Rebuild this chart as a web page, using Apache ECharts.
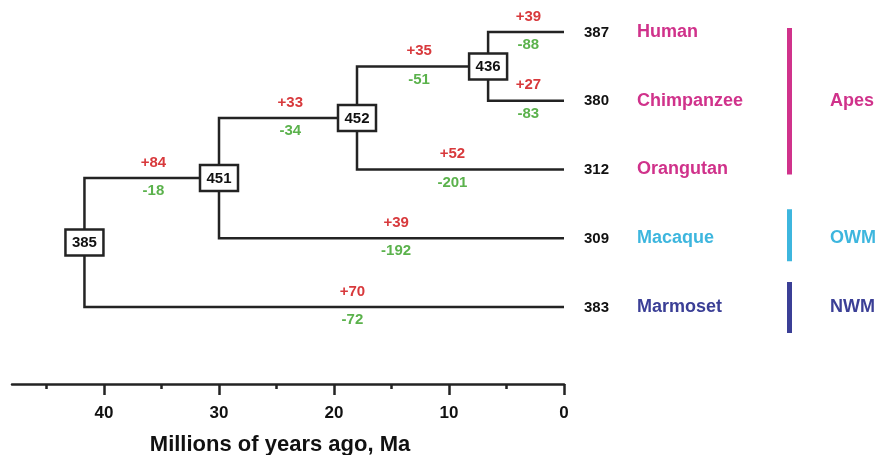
<!DOCTYPE html>
<html><head><meta charset="utf-8">
<script src="https://cdn.jsdelivr.net/npm/echarts@6/dist/echarts.min.js"></script>
<style>html,body{margin:0;padding:0;background:#fff}#c{width:875px;height:455px}</style>
</head><body><div id="c"></div>
<script>
// ---- data ----
const leaves = ['Human', 'Chimpanzee', 'Orangutan', 'Macaque', 'Marmoset'];
const leafCounts = [387, 380, 312, 309, 383];
const leafGroups = ['Apes', 'Apes', 'Apes', 'OWM', 'NWM'];
const nodeIds = ['HC', 'HCO', 'HCOM', 'Root'];
const nodeTimes = [6.6, 18, 30, 41.7];
const nodeCounts = [436, 452, 451, 385];
const branchChild = ['Human', 'Chimpanzee', 'HC', 'Orangutan', 'HCO', 'Macaque', 'HCOM', 'Marmoset'];
const branchParent = ['HC', 'HC', 'HCO', 'HCO', 'HCOM', 'HCOM', 'Root', 'Root'];
const gains = [39, 27, 35, 52, 33, 39, 84, 70];
const losses = [88, 83, 51, 201, 34, 192, 18, 72];
const labelAt = [3.1, 3.1, 12.6, 9.7, 23.8, 14.6, 35.7, 18.4];
const groups = ['Apes', 'OWM', 'NWM'];
const tickLabels = [0, 10, 20, 30, 40];
const minorTicks = [5, 15, 25, 35, 45];

// ---- style ----
const FONT = '"Liberation Sans", Arial, Helvetica, sans-serif';
const LINE = '#232323';
const RED = '#d8393c';
const GREEN = '#5bb24c';
const groupColors = { Apes: '#d0328b', OWM: '#3db6de', NWM: '#3b3f96' };
const groupPad = { Apes: [4, 5], OWM: [29, 23], NWM: [25, 26] };

function posOf(id) {
  const li = leaves.indexOf(id);
  if (li >= 0) return [0, li];
  const k = nodeIds.indexOf(id);
  const kids = branchChild.filter((c, i) => branchParent[i] === id);
  const ys = kids.map(c => posOf(c)[1]);
  return [nodeTimes[k], ys.reduce((a, b) => a + b, 0) / ys.length];
}

const chart = echarts.init(document.getElementById('c'));
const axisCommon = { type: 'value', min: 0, max: 48, inverse: true, position: 'bottom', offset: 77, splitLine: { show: false } };

chart.setOption({
  animation: false,
  grid: { left: 12, right: 311, top: 32, bottom: 148, containLabel: false, outerBoundsMode: 'none' },
  xAxis: [
    Object.assign({}, axisCommon, {
      axisLine: { show: true, onZero: false, lineStyle: { color: LINE, width: 2.5 } },
      axisTick: { show: true, customValues: tickLabels, length: 11, lineStyle: { color: LINE, width: 2.5 } },
      axisLabel: { customValues: tickLabels, margin: 21, color: '#111', fontWeight: 'bold', fontSize: 17, fontFamily: FONT },
      name: 'Millions of years ago, Ma', nameLocation: 'middle', nameGap: 50,
      nameTextStyle: { color: '#111', fontWeight: 'bold', fontSize: 22, fontFamily: FONT, padding: [0, 16, 0, 0] }
    }),
    Object.assign({}, axisCommon, {
      axisLine: { show: false, onZero: false },
      axisTick: { show: true, customValues: minorTicks, length: 5, lineStyle: { color: LINE, width: 2.5 } },
      axisLabel: { show: false }
    })
  ],
  yAxis: { type: 'value', min: 0, max: 4, inverse: true, show: false },
  series: [
    { // branches with gain / loss labels
      type: 'custom', clip: false, z: 2,
      data: branchChild.map((c, i) => [i]),
      renderItem: function (params, api) {
        const i = params.dataIndex;
        const p = posOf(branchParent[i]), c = posOf(branchChild[i]);
        const a = api.coord(p), b = api.coord([p[0], c[1]]), e = api.coord(c);
        const lx = api.coord([labelAt[i], c[1]])[0];
        return { type: 'group', children: [
          { type: 'polyline', shape: { points: [a, b, e] }, style: { stroke: LINE, lineWidth: 2.5, fill: null } },
          { type: 'text', style: { text: '+' + gains[i], x: lx, y: e[1] - 15.5, fill: RED, font: 'bold 15px ' + FONT, textAlign: 'center', textVerticalAlign: 'middle' } },
          { type: 'text', style: { text: '-' + losses[i], x: lx, y: e[1] + 13, fill: GREEN, font: 'bold 15px ' + FONT, textAlign: 'center', textVerticalAlign: 'middle' } }
        ] };
      }
    },
    { // internal node boxes
      type: 'custom', clip: false, z: 5,
      data: nodeIds.map((n, i) => [i]),
      renderItem: function (params, api) {
        const i = params.dataIndex;
        const pt = api.coord(posOf(nodeIds[i]));
        return { type: 'group', children: [
          { type: 'rect', shape: { x: pt[0] - 19, y: pt[1] - 13, width: 38, height: 26 }, style: { fill: '#fff', stroke: LINE, lineWidth: 2.5 } },
          { type: 'text', style: { text: String(nodeCounts[i]), x: pt[0], y: pt[1] + 0.5, fill: '#111', font: 'bold 15px ' + FONT, textAlign: 'center', textVerticalAlign: 'middle' } }
        ] };
      }
    },
    { // leaf counts and species names
      type: 'custom', clip: false, z: 3,
      data: leaves.map((l, i) => [i]),
      renderItem: function (params, api) {
        const i = params.dataIndex;
        const pt = api.coord([0, i]);
        return { type: 'group', children: [
          { type: 'text', style: { text: String(leafCounts[i]), x: pt[0] + 20, y: pt[1] + 0.5, fill: '#111', font: 'bold 15px ' + FONT, textAlign: 'left', textVerticalAlign: 'middle' } },
          { type: 'text', style: { text: leaves[i], x: pt[0] + 73, y: pt[1], fill: groupColors[leafGroups[i]], font: 'bold 18px ' + FONT, textAlign: 'left', textVerticalAlign: 'middle' } }
        ] };
      }
    },
    { // group bars and labels
      type: 'custom', clip: false, z: 3,
      data: groups.map((g, i) => [i]),
      renderItem: function (params, api) {
        const g = groups[params.dataIndex];
        const idx = leaves.map((l, i) => i).filter(i => leafGroups[i] === g);
        const ys = idx.map(i => api.coord([0, i])[1]);
        const x0 = api.coord([0, 0])[0];
        const top = Math.min.apply(null, ys) - groupPad[g][0];
        const bot = Math.max.apply(null, ys) + groupPad[g][1];
        const my = ys.reduce((a, b) => a + b, 0) / ys.length;
        return { type: 'group', children: [
          { type: 'rect', shape: { x: x0 + 223, y: top, width: 5, height: bot - top }, style: { fill: groupColors[g] } },
          { type: 'text', style: { text: g, x: x0 + 266, y: my, fill: groupColors[g], font: 'bold 18px ' + FONT, textAlign: 'left', textVerticalAlign: 'middle' } }
        ] };
      }
    }
  ]
});
</script>
</body></html>
